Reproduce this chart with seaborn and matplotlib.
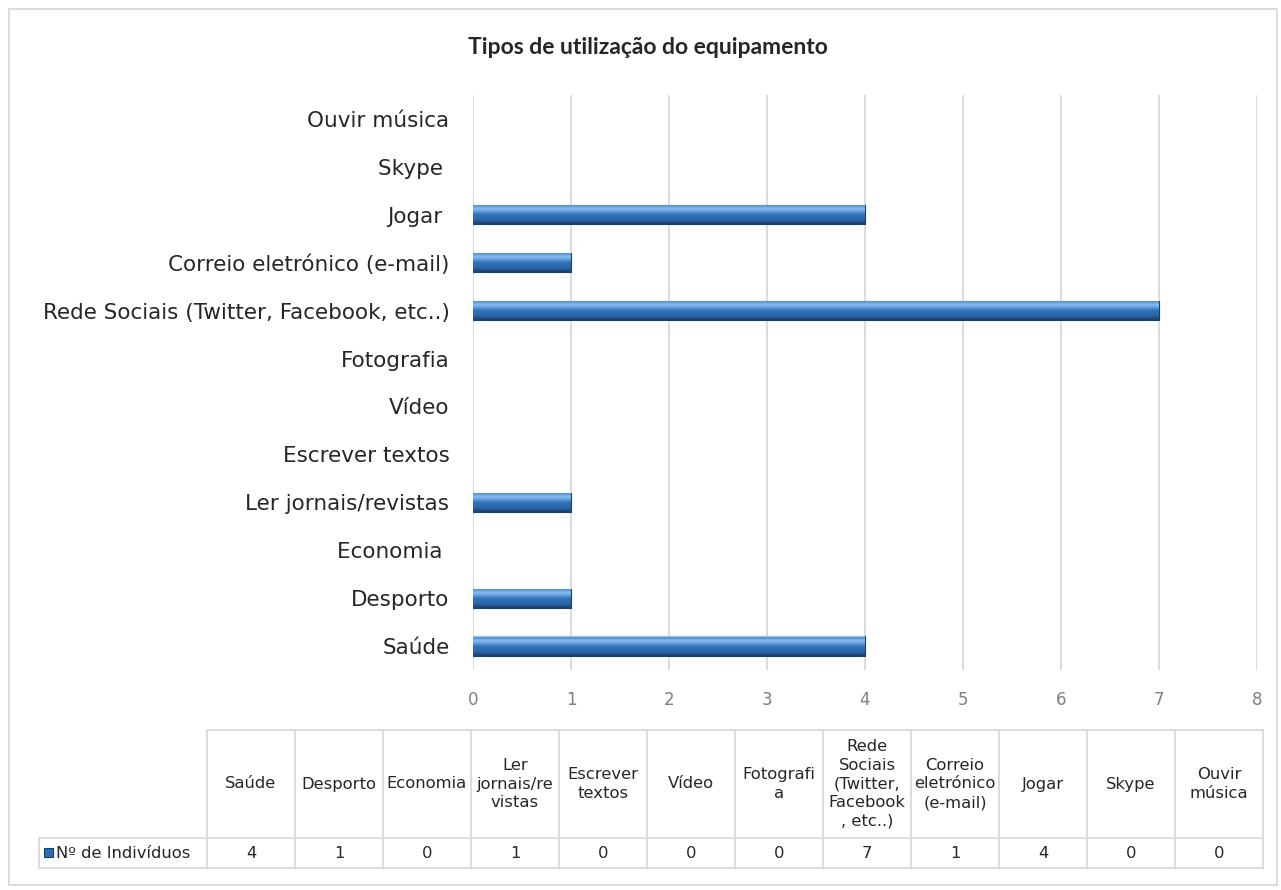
import matplotlib
matplotlib.use("Agg")
import matplotlib.pyplot as plt
import seaborn as sns
import numpy as np
import pandas as pd
from matplotlib.patches import Rectangle
from matplotlib.colors import LinearSegmentedColormap

# dados (ordem da tabela, de baixo para cima no gráfico)
categorias = ["Saúde", "Desporto", "Economia ", "Ler jornais/revistas", "Escrever textos",
              "Vídeo", "Fotografia", "Rede Sociais (Twitter, Facebook, etc..)",
              "Correio eletrónico (e-mail)", "Jogar ", "Skype ", "Ouvir música"]
individuos = [4, 1, 0, 1, 0, 0, 0, 7, 1, 4, 0, 0]
cabecalhos = ["Saúde", "Desporto", "Economia", "Ler\njornais/re\nvistas", "Escrever\ntextos",
              "Vídeo", "Fotografi\na", "Rede\nSociais\n(Twitter,\nFacebook\n, etc..)",
              "Correio\neletrónico\n(e-mail)", "Jogar", "Skype", "Ouvir\nmúsica"]
serie = "Nº de Indivíduos"
ticks_x = [0, 1, 2, 3, 4, 5, 6, 7, 8]
titulo = "Tipos de utilização do equipamento"

W, H = 1281, 890
azul = "#2e6db4"

sns.set_style("white")
plt.rcParams["font.family"] = ["DejaVu Sans"]

fig = plt.figure(figsize=(W / 100, H / 100), dpi=100)

# área do gráfico
ax = fig.add_axes([473 / W, 1 - 670 / H, 784 / W, 575 / H])
df = pd.DataFrame({"categoria": categorias[::-1], "n": individuos[::-1]})
sns.barplot(data=df, y="categoria", x="n", orient="h", color=azul, saturation=1,
            width=0.4, edgecolor="#173f6e", linewidth=0.8, ax=ax)

ax.set_xlim(0, 8)
ylim = ax.get_ylim()

# degradê tipo "bisel" do Excel, recortado por cada barra
grad = LinearSegmentedColormap.from_list("bisel", [
    (0.0, "#a9d4f5"), (0.08, "#4a8ad0"), (0.2, "#86bdec"), (0.35, "#6aa6e0"),
    (0.5, "#3473bb"), (0.8, "#2a62a6"), (0.92, "#1f4f8a"), (1.0, "#163c6a")])
faixa = np.linspace(0, 1, 64).reshape(-1, 1)
for p in list(ax.patches):
    if p.get_width() <= 0:
        p.set_visible(False)
        continue
    bb = p.get_bbox()
    im = ax.imshow(faixa, cmap=grad, aspect="auto", origin="upper",
                   extent=(bb.x0, bb.x1, bb.y1, bb.y0), zorder=p.get_zorder() + 0.1)
    im.set_clip_path(p)
ax.set_xlim(0, 8)
ax.set_ylim(ylim)

ax.set_xticks(ticks_x)
ax.grid(axis="x", color="#d9d9d9", linewidth=1.3)
ax.grid(axis="y", visible=False)
ax.set_axisbelow(True)
for s in ax.spines.values():
    s.set_visible(False)
ax.tick_params(axis="y", length=0, labelsize=15.5, pad=17, labelcolor="#262626")
ax.tick_params(axis="x", length=0, labelsize=12, pad=15, labelcolor="#7f7f7f")
ax.set_xlabel("")
ax.set_ylabel("")

fig.text(648 / W, 1 - 47 / H, titulo, ha="center", va="center", fontsize=16.5,
         fontweight="bold", family=["Lato", "DejaVu Sans"], color="#262626")

# tabela de dados por baixo
tax = fig.add_axes([0, 0, 1, 1])
tax.set_xlim(0, W)
tax.set_ylim(H, 0)
tax.axis("off")
linha = dict(color="#d9d9d9", linewidth=1.3)

x0, cw = 207, 88
y_top, y_mid, y_bot = 730, 838, 868
x_lab = 39
n = len(categorias)
tax.plot([x0, x0 + n * cw], [y_top, y_top], **linha)
tax.plot([x_lab, x0 + n * cw], [y_mid, y_mid], **linha)
tax.plot([x_lab, x0 + n * cw], [y_bot, y_bot], **linha)
tax.plot([x_lab, x_lab], [y_mid, y_bot], **linha)
for i in range(n + 1):
    tax.plot([x0 + i * cw, x0 + i * cw], [y_top, y_bot], **linha)
for i, (cab, v) in enumerate(zip(cabecalhos, individuos)):
    cx = x0 + (i + 0.5) * cw
    tax.text(cx, (y_top + y_mid) / 2, cab, ha="center", va="center", fontsize=11.8,
             color="#262626", linespacing=1.3)
    tax.text(cx, (y_mid + y_bot) / 2, str(v), ha="center", va="center", fontsize=11.8,
             color="#262626")
tax.add_patch(Rectangle((44, 848), 9, 9, facecolor=azul, edgecolor="#173f6e", linewidth=0.8))
tax.text(56, (y_mid + y_bot) / 2, serie, ha="left", va="center", fontsize=11.8, color="#262626")

# moldura exterior
tax.add_patch(Rectangle((9, 9), 1268, 876, fill=False, edgecolor="#d9d9d9", linewidth=1.3))

fig.savefig("out.png", dpi=100)
